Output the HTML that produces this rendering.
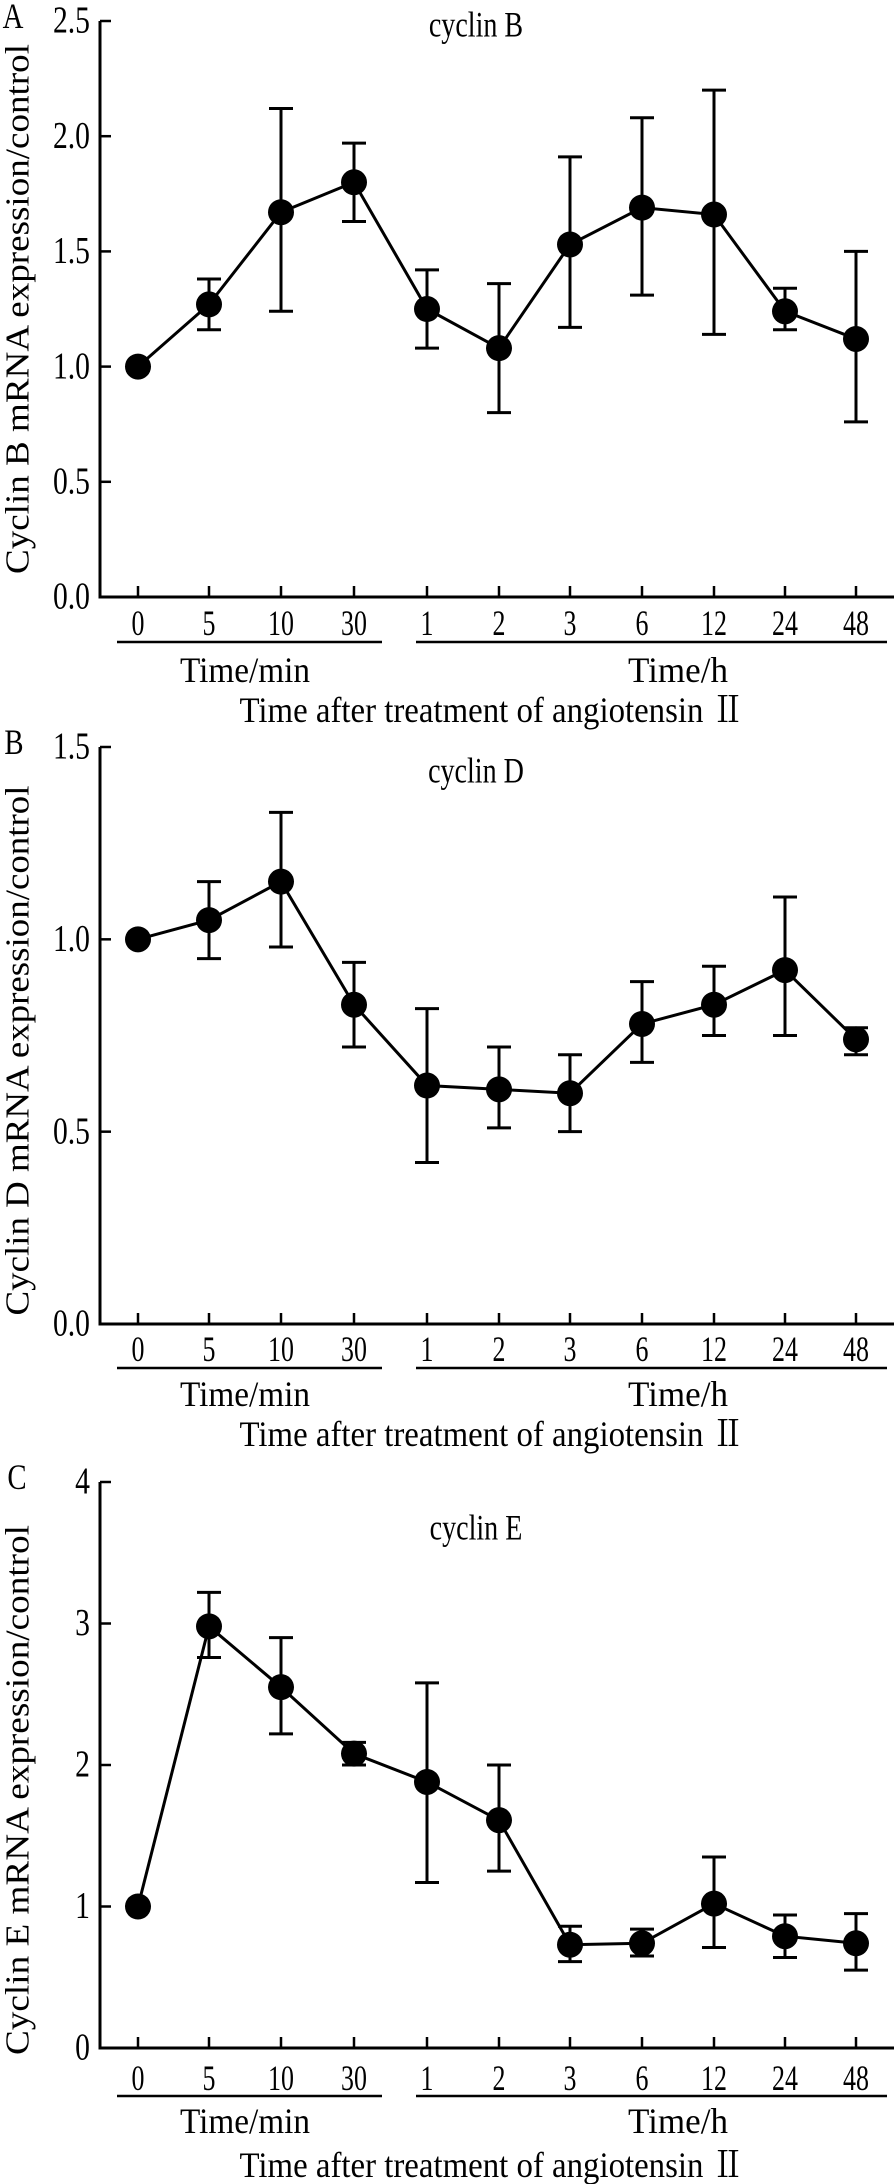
<!DOCTYPE html>
<html><head><meta charset="utf-8">
<style>
html,body{margin:0;padding:0;background:#fff;}
svg{display:block;}
text{font-family:"Liberation Serif","Noto Serif CJK SC",serif;}
</style></head>
<body>
<svg id="fig" width="894" height="2184" viewBox="0 0 894 2184" xmlns="http://www.w3.org/2000/svg"></svg>
<script>
const categories = ["0","5","10","30","1","2","3","6","12","24","48"];
const cyclinBMean  = [1.00,1.27,1.67,1.80,1.25,1.08,1.53,1.69,1.66,1.24,1.12];
const cyclinBUpper = [1.00,1.38,2.12,1.97,1.42,1.36,1.91,2.08,2.20,1.34,1.50];
const cyclinBLower = [1.00,1.16,1.24,1.63,1.08,0.80,1.17,1.31,1.14,1.16,0.76];
const cyclinBTicks = ["0.0","0.5","1.0","1.5","2.0","2.5"];
const cyclinDMean  = [1.00,1.05,1.15,0.83,0.62,0.61,0.60,0.78,0.83,0.92,0.74];
const cyclinDUpper = [1.00,1.15,1.33,0.94,0.82,0.72,0.70,0.89,0.93,1.11,0.77];
const cyclinDLower = [1.00,0.95,0.98,0.72,0.42,0.51,0.50,0.68,0.75,0.75,0.70];
const cyclinDTicks = ["0.0","0.5","1.0","1.5"];
const cyclinEMean  = [1.00,2.98,2.55,2.08,1.88,1.61,0.73,0.74,1.02,0.79,0.74];
const cyclinEUpper = [1.00,3.22,2.90,2.16,2.58,2.00,0.86,0.84,1.35,0.94,0.95];
const cyclinELower = [1.00,2.76,2.22,2.00,1.17,1.25,0.61,0.65,0.71,0.64,0.55];
const cyclinETicks = ["0","1","2","3","4"];

const NS="http://www.w3.org/2000/svg";
const svg=document.getElementById('fig');
const xPos=[138,209,281,354,427,499,570,642,714,785,856];
function xScale(i){return xPos[i];}
function mk(tag,attrs,parent){const e=document.createElementNS(NS,tag);for(const k in attrs)e.setAttribute(k,attrs[k]);(parent||svg).appendChild(e);return e;}
function txt(s,x,y,attrs,parent,sx){
  const a=Object.assign({x:x,y:y,'font-size':36,'text-anchor':'middle','dominant-baseline':'central',fill:'#000','font-family':'Liberation Serif, Noto Serif CJK SC, serif'},attrs||{});
  if(sx&&!a.transform)a.transform=`translate(${x} 0) scale(${sx} 1) translate(${-x} 0)`;
  const t=mk('text',a,parent);t.textContent=s;return t;}

function panel(cfg){
  const g=mk('g',{});
  
  
  const top=cfg.top, base=cfg.base, maxV=cfg.max;
  const y=v=>base-(v/maxV)*(base-top);
  const ax=100;
  const L=txt(cfg.letter,cfg.letterX,top-4,{'font-size':36},g,0.8);
  
  
  const yAxis=mk('line',{x1:ax,y1:top,x2:ax,y2:base,stroke:'#000','stroke-width':3},g);
  
  
  const xAxis=mk('line',{x1:ax-1.5,y1:base,x2:894,y2:base,stroke:'#000','stroke-width':3},g);
  
  
  cfg.ticks.forEach((t)=>{
    const v=parseFloat(t), yy=y(v);
    mk('line',{x1:ax,y1:yy,x2:ax+11,y2:yy,stroke:'#000','stroke-width':2.5},g);
    const tl=txt(t,ax-10,yy,{'text-anchor':'end','font-size':38},g,0.78);
    
    
  });
  categories.forEach((c,i)=>{
    const xx=xScale(i);
    mk('line',{x1:xx,y1:base,x2:xx,y2:base-11,stroke:'#000','stroke-width':2.5},g);
    const tl=txt(c,xx,base+cfg.lab,{'font-size':36},g,0.72);
    
    
  });
  const u1=mk('line',{x1:117,y1:base+cfg.ul,x2:382,y2:base+cfg.ul,stroke:'#000','stroke-width':2.5},g);
  
  
  const u2=mk('line',{x1:416,y1:base+cfg.ul,x2:887,y2:base+cfg.ul,stroke:'#000','stroke-width':2.5},g);
  
  
  const t1=txt('Time/min',245,base+cfg.grp,{textLength:130,lengthAdjust:'spacingAndGlyphs'},g);
  
  
  const t2=txt('Time/h',678,base+cfg.grp,{textLength:100,lengthAdjust:'spacingAndGlyphs'},g);
  
  
  const t3=txt('Time after treatment of angiotensin \u2161',492,base+cfg.xt,{textLength:505,lengthAdjust:'spacingAndGlyphs'},g);
  
  
  const ti=txt(cfg.title,476,cfg.titleY,{'font-size':36},g,0.78);
  
  
  const cy=(top+base)/2+cfg.ylOff;
  const yl=txt(cfg.ylabel,18,cy,{'font-size':34,transform:`rotate(-90 18 ${cy})`,textLength:cfg.ylLen,lengthAdjust:'spacingAndGlyphs'},g);
  
  
  cfg.mean.forEach((m,i)=>{
    if(cfg.upper[i]===cfg.lower[i])return;
    const xx=xScale(i);
    const eb=mk('path',{d:`M${xx},${y(cfg.upper[i])}V${y(cfg.lower[i])}M${xx-12},${y(cfg.upper[i])}H${xx+12}M${xx-12},${y(cfg.lower[i])}H${xx+12}`,stroke:'#000','stroke-width':3,fill:'none'},g);
    
    
  });
  const line=mk('polyline',{points:cfg.mean.map((m,i)=>xScale(i)+','+y(m)).join(' '),stroke:'#000','stroke-width':3,fill:'none'},g);
  
  
  cfg.mean.forEach((m,i)=>{
    const c=mk('circle',{cx:xScale(i),cy:y(m),r:13,fill:'#000'},g);
    
    
  });
}

panel({name:'panel-a-cyclin-b',letter:'A',letterX:13,top:21,base:597,max:2.5,ticks:cyclinBTicks,
  mean:cyclinBMean,upper:cyclinBUpper,lower:cyclinBLower,title:'cyclin B',titleY:24,
  ylabel:'Cyclin B mRNA expression/control',ylOff:0,ylLen:530,lab:26,ul:45,grp:73,xt:113});
panel({name:'panel-b-cyclin-d',letter:'B',letterX:14,top:747,base:1324,max:1.5,ticks:cyclinDTicks,
  mean:cyclinDMean,upper:cyclinDUpper,lower:cyclinDLower,title:'cyclin D',titleY:770,
  ylabel:'Cyclin D mRNA expression/control',ylOff:15,ylLen:530,lab:25,ul:44,grp:70,xt:110});
panel({name:'panel-c-cyclin-e',letter:'C',letterX:17,top:1482,base:2048,max:4,ticks:cyclinETicks,
  mean:cyclinEMean,upper:cyclinEUpper,lower:cyclinELower,title:'cyclin E',titleY:1527,
  ylabel:'Cyclin E mRNA expression/control',ylOff:25,ylLen:530,lab:30,ul:48,grp:73,xt:117});
</script>
</body></html>
